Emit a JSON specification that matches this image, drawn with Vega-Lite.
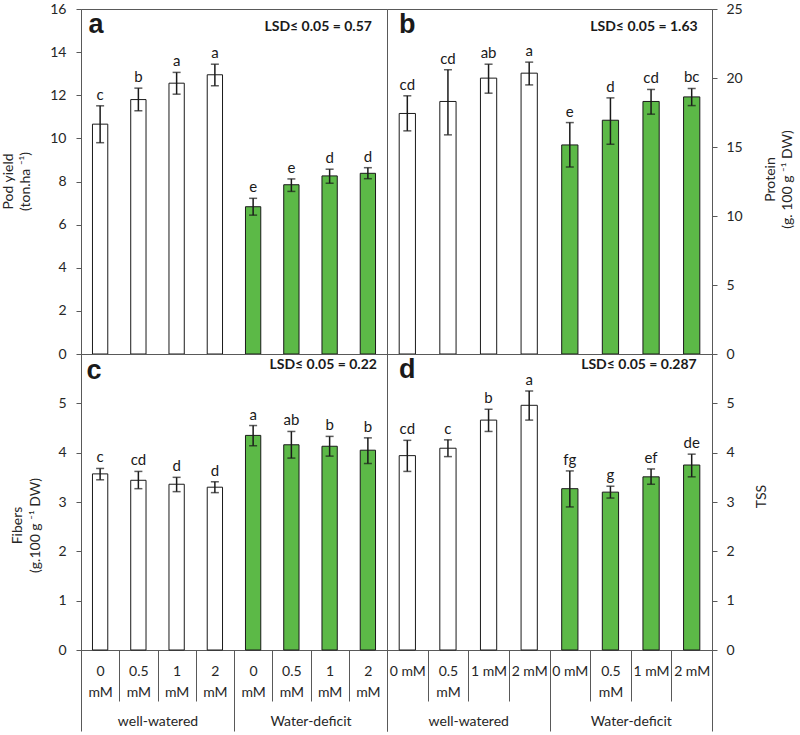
{
  "$schema": "https://vega.github.io/schema/vega-lite/v6.json",
  "padding": {"left": 0, "top": 1, "right": 0, "bottom": 0},
  "config": {
    "font": "Lato",
    "view": {"stroke": "#595959", "strokeWidth": 1},
    "axis": {"domainColor": "#595959", "tickColor": "#595959", "labelColor": "#262626", "titleColor": "#262626", "labelFont": "Lato", "titleFont": "Lato", "labelFontSize": 14, "titleFontSize": 14, "titleFontWeight": "normal", "grid": false, "titleLineHeight": 17}
  },
  "datasets": {
    "a": [
      {"treatment": "WW 0 mM", "condition": "well-watered", "mean": 10.66, "lo": 9.80, "hi": 11.51, "letter": "c"},
      {"treatment": "WW 0.5 mM", "condition": "well-watered", "mean": 11.80, "lo": 11.28, "hi": 12.33, "letter": "b"},
      {"treatment": "WW 1 mM", "condition": "well-watered", "mean": 12.56, "lo": 12.05, "hi": 13.06, "letter": "a"},
      {"treatment": "WW 2 mM", "condition": "well-watered", "mean": 12.95, "lo": 12.44, "hi": 13.44, "letter": "a"},
      {"treatment": "WD 0 mM", "condition": "Water-deficit", "mean": 6.83, "lo": 6.44, "hi": 7.22, "letter": "e"},
      {"treatment": "WD 0.5 mM", "condition": "Water-deficit", "mean": 7.85, "lo": 7.54, "hi": 8.12, "letter": "e"},
      {"treatment": "WD 1 mM", "condition": "Water-deficit", "mean": 8.26, "lo": 7.92, "hi": 8.57, "letter": "d"},
      {"treatment": "WD 2 mM", "condition": "Water-deficit", "mean": 8.38, "lo": 8.13, "hi": 8.64, "letter": "d"}
    ],
    "b": [
      {"treatment": "WW 0 mM", "condition": "well-watered", "mean": 17.43, "lo": 16.17, "hi": 18.71, "letter": "cd"},
      {"treatment": "WW 0.5 mM", "condition": "well-watered", "mean": 18.30, "lo": 15.88, "hi": 20.6, "letter": "cd"},
      {"treatment": "WW 1 mM", "condition": "well-watered", "mean": 19.99, "lo": 18.9, "hi": 21.0, "letter": "ab"},
      {"treatment": "WW 2 mM", "condition": "well-watered", "mean": 20.35, "lo": 19.5, "hi": 21.15, "letter": "a"},
      {"treatment": "WD 0 mM", "condition": "Water-deficit", "mean": 15.15, "lo": 13.55, "hi": 16.77, "letter": "e"},
      {"treatment": "WD 0.5 mM", "condition": "Water-deficit", "mean": 16.94, "lo": 15.2, "hi": 18.56, "letter": "d"},
      {"treatment": "WD 1 mM", "condition": "Water-deficit", "mean": 18.30, "lo": 17.38, "hi": 19.17, "letter": "cd"},
      {"treatment": "WD 2 mM", "condition": "Water-deficit", "mean": 18.63, "lo": 18.0, "hi": 19.24, "letter": "bc"}
    ],
    "c": [
      {"treatment": "WW 0 mM", "condition": "well-watered", "mean": 3.57, "lo": 3.45, "hi": 3.68, "letter": "c"},
      {"treatment": "WW 0.5 mM", "condition": "well-watered", "mean": 3.44, "lo": 3.27, "hi": 3.62, "letter": "cd"},
      {"treatment": "WW 1 mM", "condition": "well-watered", "mean": 3.36, "lo": 3.21, "hi": 3.50, "letter": "d"},
      {"treatment": "WW 2 mM", "condition": "well-watered", "mean": 3.30, "lo": 3.19, "hi": 3.41, "letter": "d"},
      {"treatment": "WD 0 mM", "condition": "Water-deficit", "mean": 4.35, "lo": 4.14, "hi": 4.55, "letter": "a"},
      {"treatment": "WD 0.5 mM", "condition": "Water-deficit", "mean": 4.16, "lo": 3.89, "hi": 4.43, "letter": "ab"},
      {"treatment": "WD 1 mM", "condition": "Water-deficit", "mean": 4.13, "lo": 3.93, "hi": 4.33, "letter": "b"},
      {"treatment": "WD 2 mM", "condition": "Water-deficit", "mean": 4.05, "lo": 3.78, "hi": 4.30, "letter": "b"}
    ],
    "d": [
      {"treatment": "WW 0 mM", "condition": "well-watered", "mean": 3.94, "lo": 3.62, "hi": 4.25, "letter": "cd"},
      {"treatment": "WW 0.5 mM", "condition": "well-watered", "mean": 4.09, "lo": 3.92, "hi": 4.26, "letter": "c"},
      {"treatment": "WW 1 mM", "condition": "well-watered", "mean": 4.66, "lo": 4.43, "hi": 4.88, "letter": "b"},
      {"treatment": "WW 2 mM", "condition": "well-watered", "mean": 4.96, "lo": 4.66, "hi": 5.25, "letter": "a"},
      {"treatment": "WD 0 mM", "condition": "Water-deficit", "mean": 3.27, "lo": 2.90, "hi": 3.63, "letter": "fg"},
      {"treatment": "WD 0.5 mM", "condition": "Water-deficit", "mean": 3.20, "lo": 3.08, "hi": 3.32, "letter": "g"},
      {"treatment": "WD 1 mM", "condition": "Water-deficit", "mean": 3.51, "lo": 3.36, "hi": 3.67, "letter": "ef"},
      {"treatment": "WD 2 mM", "condition": "Water-deficit", "mean": 3.75, "lo": 3.51, "hi": 3.97, "letter": "de"}
    ],
    "notes": [
      {"panel": "a", "label": "a", "lsd": "LSD≤ 0.05 = 0.57"},
      {"panel": "b", "label": "b", "lsd": "LSD≤ 0.05 = 1.63"},
      {"panel": "c", "label": "c", "lsd": "LSD≤ 0.05 = 0.22"},
      {"panel": "d", "label": "d", "lsd": "LSD≤ 0.05 = 0.287"}
    ],
    "groups": [
      {"group": "well-watered"},
      {"group": "Water-deficit"}
    ]
  },
  "columns": 2,
  "spacing": 0,
  "bounds": "flush",
  "concat": [
    {
      "width": 306, "height": 345,
      "data": {"name": "a"},
      "encoding": {"x": {"field": "treatment", "type": "nominal", "scale": {"domain": ["WW 0 mM", "WW 0.5 mM", "WW 1 mM", "WW 2 mM", "WD 0 mM", "WD 0.5 mM", "WD 1 mM", "WD 2 mM"], "paddingInner": 0, "paddingOuter": 0}, "axis": null}},
      "layer": [
        {"mark": {"type": "bar", "width": {"band": 0.4}, "stroke": "#1a1a1a", "strokeWidth": 1},
         "encoding": {
           "y": {"field": "mean", "type": "quantitative", "scale": {"domain": [0, 16], "nice": false},
                 "axis": {"orient": "left", "values": [0, 2, 4, 6, 8, 10, 12, 14, 16], "tickSize": 5, "labelPadding": 10, "title": ["Pod yield", "(ton.ha ⁻¹)"], "titleX": -73, "titleY": 172, "titleAngle": 270, "titleBaseline": "middle", "titleAlign": "center"}},
           "fill": {"field": "condition", "type": "nominal", "scale": {"domain": ["well-watered", "Water-deficit"], "range": ["#ffffff", "#5cb947"]}, "legend": null}}},
        {"mark": {"type": "rule", "stroke": "#1a1a1a", "strokeWidth": 1.5}, "encoding": {"y": {"field": "lo", "type": "quantitative"}, "y2": {"field": "hi"}}},
        {"mark": {"type": "tick", "size": 8, "thickness": 1.5, "color": "#1a1a1a"}, "encoding": {"y": {"field": "lo", "type": "quantitative"}}},
        {"mark": {"type": "tick", "size": 8, "thickness": 1.5, "color": "#1a1a1a"}, "encoding": {"y": {"field": "hi", "type": "quantitative"}}},
        {"mark": {"type": "text", "baseline": "alphabetic", "dy": -6, "fontSize": 15, "color": "#1a1a1a"}, "encoding": {"y": {"field": "hi", "type": "quantitative"}, "text": {"field": "letter"}}},
        {"data": {"name": "notes"}, "transform": [{"filter": "datum.panel == 'a'"}],
         "mark": {"type": "text", "font": "Liberation Sans", "fontWeight": "bold", "fontSize": 27, "baseline": "alphabetic", "dx": -4, "color": "#1a1a1a"},
         "encoding": {"x": {"datum": "WW 0 mM", "type": "nominal"}, "y": {"datum": 14.89, "type": "quantitative"}, "text": {"field": "label"}}},
        {"data": {"name": "notes"}, "transform": [{"filter": "datum.panel == 'a'"}],
         "mark": {"type": "text", "fontWeight": "bold", "fontSize": 14, "baseline": "alphabetic", "align": "right", "dx": 4, "color": "#1a1a1a"},
         "encoding": {"x": {"datum": "WD 2 mM", "type": "nominal"}, "y": {"datum": 14.98, "type": "quantitative"}, "text": {"field": "lsd"}}}
      ]
    },
    {
      "width": 325, "height": 345,
      "data": {"name": "b"},
      "encoding": {"x": {"field": "treatment", "type": "nominal", "scale": {"domain": ["WW 0 mM", "WW 0.5 mM", "WW 1 mM", "WW 2 mM", "WD 0 mM", "WD 0.5 mM", "WD 1 mM", "WD 2 mM"], "paddingInner": 0, "paddingOuter": 0}, "axis": null}},
      "layer": [
        {"mark": {"type": "bar", "width": {"band": 0.4}, "stroke": "#1a1a1a", "strokeWidth": 1},
         "encoding": {
           "y": {"field": "mean", "type": "quantitative", "scale": {"domain": [0, 25], "nice": false},
                 "axis": {"orient": "right", "values": [0, 5, 10, 15, 20, 25], "tickSize": 5, "labelPadding": 9, "title": ["Protein", "(g. 100 g ⁻¹ DW)"], "titleX": 58, "titleY": 170, "titleAngle": 270, "titleBaseline": "middle", "titleAlign": "center"}},
           "fill": {"field": "condition", "type": "nominal", "scale": {"domain": ["well-watered", "Water-deficit"], "range": ["#ffffff", "#5cb947"]}, "legend": null}}},
        {"mark": {"type": "rule", "stroke": "#1a1a1a", "strokeWidth": 1.5}, "encoding": {"y": {"field": "lo", "type": "quantitative"}, "y2": {"field": "hi"}}},
        {"mark": {"type": "tick", "size": 8, "thickness": 1.5, "color": "#1a1a1a"}, "encoding": {"y": {"field": "lo", "type": "quantitative"}}},
        {"mark": {"type": "tick", "size": 8, "thickness": 1.5, "color": "#1a1a1a"}, "encoding": {"y": {"field": "hi", "type": "quantitative"}}},
        {"mark": {"type": "text", "baseline": "alphabetic", "dy": -6, "fontSize": 15, "color": "#1a1a1a"}, "encoding": {"y": {"field": "hi", "type": "quantitative"}, "text": {"field": "letter"}}},
        {"data": {"name": "notes"}, "transform": [{"filter": "datum.panel == 'b'"}],
         "mark": {"type": "text", "font": "Liberation Sans", "fontWeight": "bold", "fontSize": 27, "baseline": "alphabetic", "dx": 0, "color": "#1a1a1a"},
         "encoding": {"x": {"datum": "WW 0 mM", "type": "nominal"}, "y": {"datum": 23.28, "type": "quantitative"}, "text": {"field": "label"}}},
        {"data": {"name": "notes"}, "transform": [{"filter": "datum.panel == 'b'"}],
         "mark": {"type": "text", "fontWeight": "bold", "fontSize": 14, "baseline": "alphabetic", "align": "right", "dx": 6, "color": "#1a1a1a"},
         "encoding": {"x": {"datum": "WD 2 mM", "type": "nominal"}, "y": {"datum": 23.41, "type": "quantitative"}, "text": {"field": "lsd"}}}
      ]
    },
    {
      "width": 306, "height": 296,
      "layer": [
        {
          "data": {"name": "c"},
          "encoding": {"x": {"field": "treatment", "type": "nominal", "scale": {"domain": ["WW 0 mM", "WW 0.5 mM", "WW 1 mM", "WW 2 mM", "WD 0 mM", "WD 0.5 mM", "WD 1 mM", "WD 2 mM"], "paddingInner": 0, "paddingOuter": 0},
                               "axis": {"orient": "bottom", "title": null, "domain": false, "tickBand": "extent", "tickSize": 51, "labelPadding": -37, "labelAngle": 0, "labelOverlap": false, "labelLineHeight": 21, "labelExpr": "isValid(datum.value) ? slice(split(datum.label, ' '), 1) : ''"}}},
          "layer": [
            {"mark": {"type": "bar", "width": {"band": 0.4}, "stroke": "#1a1a1a", "strokeWidth": 1},
             "encoding": {
               "y": {"field": "mean", "type": "quantitative", "scale": {"domain": [0, 6], "nice": false},
                     "axis": {"orient": "left", "values": [0, 1, 2, 3, 4, 5], "tickSize": 5, "labelPadding": 10, "title": ["Fibers", "(g.100 g ⁻¹ DW)"], "titleX": -64, "titleY": 171, "titleAngle": 270, "titleBaseline": "middle", "titleAlign": "center", "titleLineHeight": 18}},
               "fill": {"field": "condition", "type": "nominal", "scale": {"domain": ["well-watered", "Water-deficit"], "range": ["#ffffff", "#5cb947"]}, "legend": null}}},
            {"mark": {"type": "rule", "stroke": "#1a1a1a", "strokeWidth": 1.5}, "encoding": {"y": {"field": "lo", "type": "quantitative"}, "y2": {"field": "hi"}}},
            {"mark": {"type": "tick", "size": 8, "thickness": 1.5, "color": "#1a1a1a"}, "encoding": {"y": {"field": "lo", "type": "quantitative"}}},
            {"mark": {"type": "tick", "size": 8, "thickness": 1.5, "color": "#1a1a1a"}, "encoding": {"y": {"field": "hi", "type": "quantitative"}}},
            {"mark": {"type": "text", "baseline": "alphabetic", "dy": -6, "fontSize": 15, "color": "#1a1a1a"}, "encoding": {"y": {"field": "hi", "type": "quantitative"}, "text": {"field": "letter"}}},
            {"data": {"name": "notes"}, "transform": [{"filter": "datum.panel == 'c'"}],
             "mark": {"type": "text", "font": "Liberation Sans", "fontWeight": "bold", "fontSize": 27, "baseline": "alphabetic", "dx": -6, "color": "#1a1a1a"},
             "encoding": {"x": {"datum": "WW 0 mM", "type": "nominal"}, "y": {"datum": 5.49, "type": "quantitative"}, "text": {"field": "label"}}},
            {"data": {"name": "notes"}, "transform": [{"filter": "datum.panel == 'c'"}],
             "mark": {"type": "text", "fontWeight": "bold", "fontSize": 14, "baseline": "alphabetic", "align": "right", "dx": 9, "color": "#1a1a1a"},
             "encoding": {"x": {"datum": "WD 2 mM", "type": "nominal"}, "y": {"datum": 5.69, "type": "quantitative"}, "text": {"field": "lsd"}}}
          ]
        },
        {
          "data": {"name": "groups"},
          "mark": {"type": "text", "opacity": 0},
          "encoding": {
            "x": {"field": "group", "type": "nominal", "scale": {"domain": ["well-watered", "Water-deficit"], "paddingInner": 0, "paddingOuter": 0},
                  "axis": {"orient": "bottom", "title": null, "domain": false, "tickBand": "extent", "tickSize": 81, "labelPadding": -17, "labelAngle": 0, "labelExpr": "isValid(datum.value) ? datum.label : ''"}},
            "text": {"field": "group"}
          }
        }
      ],
      "resolve": {"scale": {"x": "independent"}}
    },
    {
      "width": 325, "height": 296,
      "layer": [
        {
          "data": {"name": "d"},
          "encoding": {"x": {"field": "treatment", "type": "nominal", "scale": {"domain": ["WW 0 mM", "WW 0.5 mM", "WW 1 mM", "WW 2 mM", "WD 0 mM", "WD 0.5 mM", "WD 1 mM", "WD 2 mM"], "paddingInner": 0, "paddingOuter": 0},
                               "axis": {"orient": "bottom", "title": null, "domain": false, "tickBand": "extent", "tickSize": 51, "labelPadding": -37, "labelAngle": 0, "labelOverlap": false, "labelLineHeight": 21, "labelExpr": "!isValid(datum.value) ? '' : (split(datum.label, ' ')[1] == '0.5' ? ['0.5', 'mM'] : split(datum.label, ' ')[1] + ' mM')"}}},
          "layer": [
            {"mark": {"type": "bar", "width": {"band": 0.4}, "stroke": "#1a1a1a", "strokeWidth": 1},
             "encoding": {
               "y": {"field": "mean", "type": "quantitative", "scale": {"domain": [0, 6], "nice": false},
                     "axis": {"orient": "right", "values": [0, 1, 2, 3, 4, 5], "tickSize": 5, "labelPadding": 9, "title": "TSS", "titleX": 49, "titleY": 142, "titleAngle": 270, "titleBaseline": "middle", "titleAlign": "center"}},
               "fill": {"field": "condition", "type": "nominal", "scale": {"domain": ["well-watered", "Water-deficit"], "range": ["#ffffff", "#5cb947"]}, "legend": null}}},
            {"mark": {"type": "rule", "stroke": "#1a1a1a", "strokeWidth": 1.5}, "encoding": {"y": {"field": "lo", "type": "quantitative"}, "y2": {"field": "hi"}}},
            {"mark": {"type": "tick", "size": 8, "thickness": 1.5, "color": "#1a1a1a"}, "encoding": {"y": {"field": "lo", "type": "quantitative"}}},
            {"mark": {"type": "tick", "size": 8, "thickness": 1.5, "color": "#1a1a1a"}, "encoding": {"y": {"field": "hi", "type": "quantitative"}}},
            {"mark": {"type": "text", "baseline": "alphabetic", "dy": -6, "fontSize": 15, "color": "#1a1a1a"}, "encoding": {"y": {"field": "hi", "type": "quantitative"}, "text": {"field": "letter"}}},
            {"data": {"name": "notes"}, "transform": [{"filter": "datum.panel == 'd'"}],
             "mark": {"type": "text", "font": "Liberation Sans", "fontWeight": "bold", "fontSize": 27, "baseline": "alphabetic", "dx": 0, "color": "#1a1a1a"},
             "encoding": {"x": {"datum": "WW 0 mM", "type": "nominal"}, "y": {"datum": 5.52, "type": "quantitative"}, "text": {"field": "label"}}},
            {"data": {"name": "notes"}, "transform": [{"filter": "datum.panel == 'd'"}],
             "mark": {"type": "text", "fontWeight": "bold", "fontSize": 14, "baseline": "alphabetic", "align": "right", "dx": 5, "color": "#1a1a1a"},
             "encoding": {"x": {"datum": "WD 2 mM", "type": "nominal"}, "y": {"datum": 5.69, "type": "quantitative"}, "text": {"field": "lsd"}}}
          ]
        },
        {
          "data": {"name": "groups"},
          "mark": {"type": "text", "opacity": 0},
          "encoding": {
            "x": {"field": "group", "type": "nominal", "scale": {"domain": ["well-watered", "Water-deficit"], "paddingInner": 0, "paddingOuter": 0},
                  "axis": {"orient": "bottom", "title": null, "domain": false, "tickBand": "extent", "tickSize": 81, "labelPadding": -17, "labelAngle": 0, "labelExpr": "isValid(datum.value) ? datum.label : ''"}},
            "text": {"field": "group"}
          }
        }
      ],
      "resolve": {"scale": {"x": "independent"}}
    }
  ]
}
